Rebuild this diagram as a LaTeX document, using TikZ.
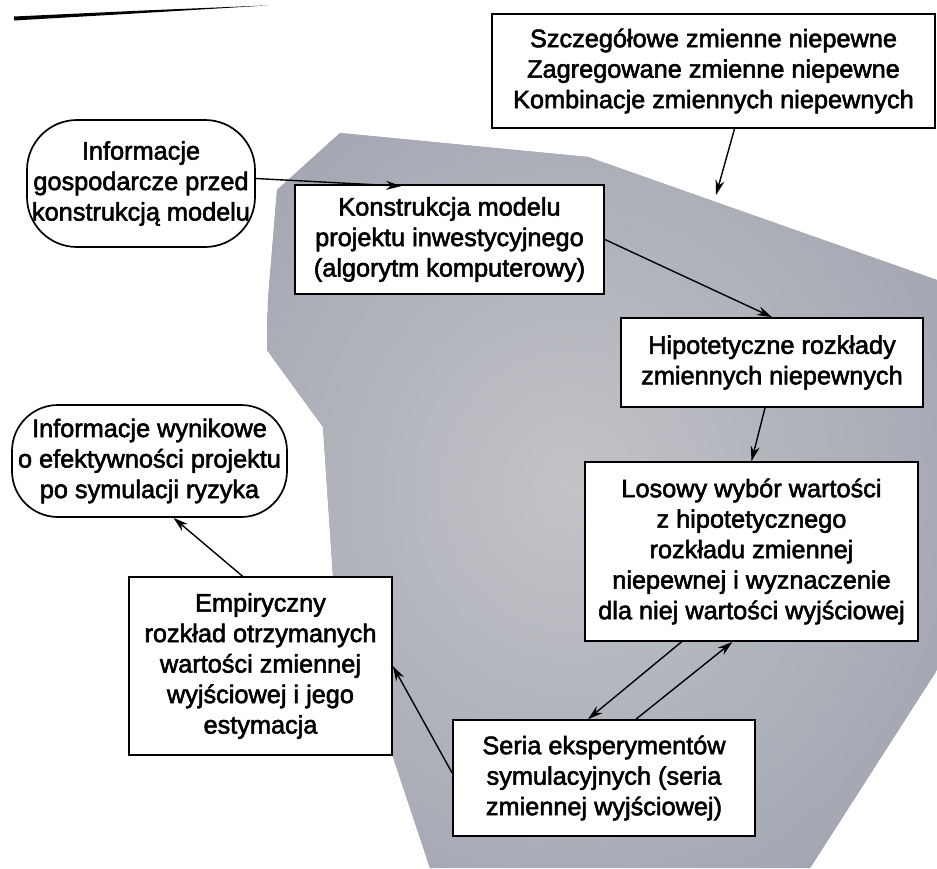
\documentclass[tikz,border=0pt]{standalone}
\usepackage{fontspec}
\setmainfont{Liberation Sans}[BoldFont=Liberation Sans, BoldFeatures={FakeBold=2.2}]
\usetikzlibrary{arrows.meta}
\definecolor{sheetedge}{RGB}{142,147,164}
\definecolor{sheetmid}{RGB}{194,195,199}
\tikzset{
  box/.style={draw=black, line width=1.7pt, fill=white, inner sep=0pt,
    align=center, font=\bfseries\fontsize{25.3}{30.5}\selectfont},
  roundbox/.style={box, rounded corners=50pt},
  link/.style={line width=1.4pt, -{Stealth[length=15pt,width=9pt]}},
}
\begin{document}
\begin{tikzpicture}[x=1pt,y=-1pt]
\useasboundingbox (0,0) rectangle (937,868);

% header rule at the top of the page
\fill[black] (14,16.5) -- (150,10.2) -- (268,5.4) -- (150,12.6) -- (14,20.5) -- cycle;

% grey sheet behind the simulation loop
\begin{scope}
  \clip (340,133) -- (588,157) -- (937,280) -- (937,670) -- (810,868)
        -- (430,868) -- (333,577) -- (323,427) -- (267,350) -- (268,300)
        -- (277,190) -- cycle;
  \fill[sheetedge] (0,0) rectangle (937,868);
  \shade[inner color=sheetmid, outer color=sheetedge]
        (570,490) ellipse [x radius=720, y radius=780];
\end{scope}
\coordinate (edge) at (716,195);

% nodes
\node[box, minimum width=443pt, minimum height=114pt] (top) at (713.5,71)
  {Szczegółowe zmienne niepewne\\Zagregowane zmienne niepewne\\Kombinacje zmiennych niepewnych};
\node[roundbox, minimum width=228pt, minimum height=127pt] (info) at (141,183.5)
  {Informacje\\gospodarcze przed\\konstrukcją modelu};
\node[box, minimum width=309pt, minimum height=109pt] (kons) at (449.5,239.5)
  {Konstrukcja modelu\\projektu inwestycyjnego\\(algorytm komputerowy)};
\node[box, minimum width=302pt, minimum height=89pt] (hip) at (772,362.5)
  {Hipotetyczne rozkłady\\zmiennych niepewnych};
\node[box, minimum width=333pt, minimum height=179pt] (los) at (751.5,551.5)
  {Losowy wybór wartości\\z hipotetycznego\\rozkładu zmiennej\\niepewnej i wyznaczenie\\dla niej wartości wyjściowej};
\node[roundbox, rounded corners=46pt, minimum width=275pt, minimum height=112pt] (wyn) at (149.5,461)
  {Informacje wynikowe\\o efektywności projektu\\po symulacji ryzyka};
\node[box, minimum width=263pt, minimum height=178pt] (emp) at (260.5,666)
  {Empiryczny\\rozkład otrzymanych\\wartości zmiennej\\wyjściowej i jego\\estymacja};
\node[box, minimum width=302pt, minimum height=116pt] (ser) at (604,778)
  {Seria eksperymentów\\symulacyjnych (seria\\zmiennej wyjściowej)};

% connectors
\draw[link] ([yshift=5pt]info.east) -- ([xshift=107pt,yshift=-2pt]kons.north west);
\draw[link] ([xshift=21pt]top.south) -- (edge);
\draw[link] (kons.east) -- (hip.north);
\draw[link] ([xshift=-7pt]hip.south) -- (los.north);
\draw[link] ([xshift=-70pt]los.south) -- ([xshift=-16pt]ser.north);
\draw[link] ([xshift=32pt]ser.north) -- ([xshift=-19pt]los.south);
\draw[link] ([yshift=5pt]ser.west) -- (emp.east);
\draw[link] ([xshift=-18pt]emp.north) -- ([xshift=24pt]wyn.south);
\end{tikzpicture}
\end{document}
